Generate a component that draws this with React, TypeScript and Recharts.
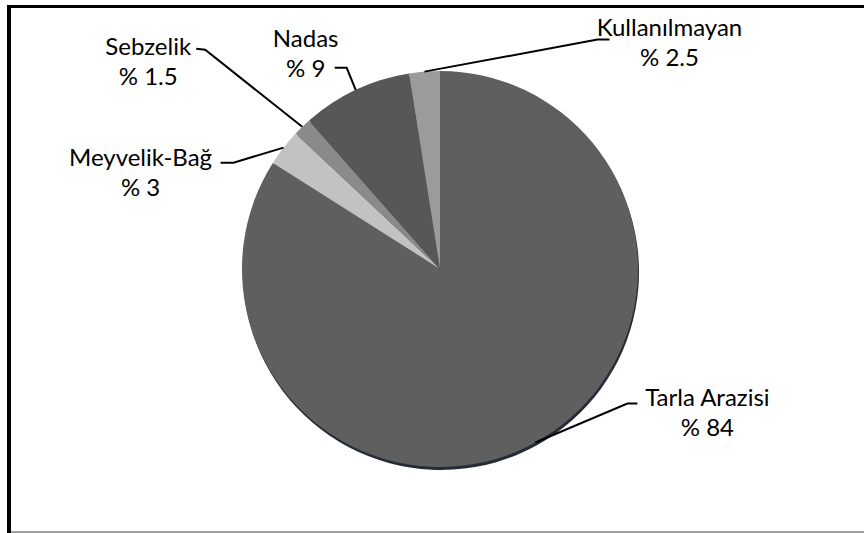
import React from 'react';
import { PieChart, Pie, Cell } from 'recharts';

const categories = ['Tarla Arazisi', 'Meyvelik-Bağ', 'Sebzelik', 'Nadas', 'Kullanılmayan'];
const percentValues = [84, 3, 1.5, 9, 2.5];
const percentLabels = ['% 84', '% 3', '% 1.5', '% 9', '% 2.5'];

const sliceColors = ['#5f5f5f', '#c2c2c2', '#8a8a8a', '#575757', '#9b9b9b'];

// label layout relative to the slice edge point: elbow, line end, text center (line 1)
const labelLayout = [
  { elbow: [92, -39], end: [102, -39], text: [172, -46] },
  { elbow: [-50, 15], end: [-63, 15], text: [-143, 9] },
  { elbow: [-97, -77], end: [-106, -78], text: [-154, -81] },
  { elbow: [-9, -22], end: [-21, -22], text: [-50, -52] },
  { elbow: [173, -32], end: [185, -32], text: [245, -45] },
];

const data = categories.map((name, i) => ({ name, value: percentValues[i], pct: percentLabels[i] }));

const RAD = Math.PI / 180;
const FONT = 'Lato, "Open Sans", sans-serif';

const renderLabel = (props: any) => {
  const { cx, cy, midAngle, outerRadius, index } = props;
  const ex = cx + outerRadius * Math.cos(-midAngle * RAD);
  const ey = cy + outerRadius * Math.sin(-midAngle * RAD);
  const l = labelLayout[index];
  const bx = ex + l.elbow[0];
  const by = ey + l.elbow[1];
  const nx = ex + l.end[0];
  const ny = ey + l.end[1];
  const tx = ex + l.text[0];
  const ty = ey + l.text[1];
  return (
    <g key={`lbl-${index}`}>
      <polyline points={`${ex},${ey} ${bx},${by} ${nx},${ny}`} fill="none" stroke="#000" strokeWidth={2} />
      <text x={tx} y={ty} textAnchor="middle" dominantBaseline="central" fontSize={24} fontFamily={FONT} fill="#000">
        {data[index].name}
      </text>
      <text x={tx} y={ty + 30} textAnchor="middle" dominantBaseline="central" fontSize={24} fontFamily={FONT} fill="#000">
        {data[index].pct}
      </text>
    </g>
  );
};

export default function App() {
  return (
    <div style={{ position: 'absolute', left: 0, top: 0, width: 864, height: 533, background: '#fff', overflow: 'hidden' }}>
      <div style={{ position: 'absolute', left: 7, top: 5, width: 4, height: 528, background: '#000' }} />
      <div style={{ position: 'absolute', left: 7, top: 5, width: 857, height: 3, background: '#000' }} />
      <div style={{ position: 'absolute', left: 11, top: 531, width: 853, height: 2, background: '#a0a0a0' }} />
      <div style={{ position: 'absolute', left: 0, top: 0 }}>
        <PieChart width={864} height={533}>
          <Pie
            data={data}
            dataKey="value"
            cx={436}
            cy={267}
            outerRadius={198}
            startAngle={90}
            endAngle={-270}
            fill="#262c36"
            stroke="none"
            isAnimationActive={false}
            label={false}
            labelLine={false}
          >
            {data.map((d, i) => (
              <Cell key={`s-${i}`} fill="#262c36" />
            ))}
          </Pie>
          <Pie
            data={data}
            dataKey="value"
            cx={435}
            cy={264}
            outerRadius={198}
            startAngle={90}
            endAngle={-270}
            stroke="none"
            isAnimationActive={false}
            label={renderLabel}
            labelLine={false}
          >
            {data.map((d, i) => (
              <Cell key={`c-${i}`} fill={sliceColors[i]} />
            ))}
          </Pie>
        </PieChart>
      </div>
    </div>
  );
}
